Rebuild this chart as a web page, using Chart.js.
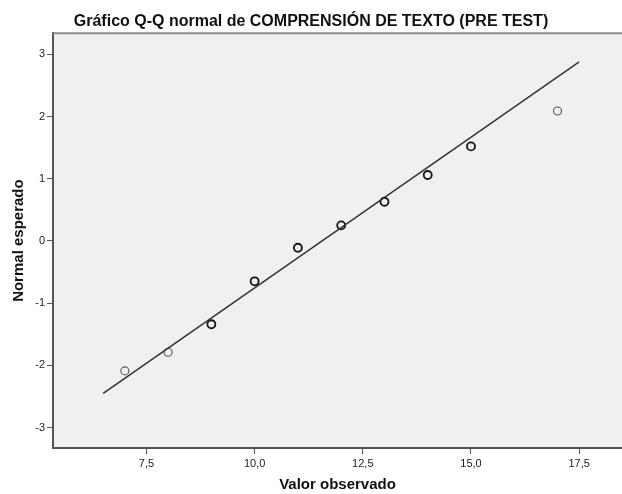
<!DOCTYPE html>
<html>
<head>
<meta charset="utf-8">
<script src="https://cdn.jsdelivr.net/npm/chart.js@4/dist/chart.umd.min.js"></script>
<style>
  body { margin: 0; background: #fff; }
  #wrap { width: 622px; height: 494px; }
</style>
</head>
<body>
<div id="wrap"><canvas id="qq" width="622" height="494"></canvas></div>
<script>
const observed = [7, 8, 9, 10, 11, 12, 13, 14, 15, 17];
const expected = [-2.09, -1.79, -1.34, -0.65, -0.11, 0.25, 0.63, 1.06, 1.52, 2.09];
// recta de referencia
const lineX = [6.5, 17.5];
const lineY = [-2.45, 2.88];
// ticks
const xTicks = [7.5, 10, 12.5, 15, 17.5];
const yTicks = [-3, -2, -1, 0, 1, 2, 3];

const fontFam = "'Liberation Sans', Arial, sans-serif";

const plotBg = {
  id: 'plotBg',
  beforeDraw(chart) {
    const { ctx, chartArea: a } = chart;
    ctx.save();
    ctx.fillStyle = '#f0f0f0';
    ctx.fillRect(a.left, a.top, a.right - a.left, a.bottom - a.top);
    ctx.restore();
  },
  afterDraw(chart) {
    const { ctx, chartArea: a } = chart;
    ctx.save();
    ctx.strokeStyle = '#8a8a8a';
    ctx.lineWidth = 2;
    ctx.beginPath();
    ctx.moveTo(a.left, a.top);
    ctx.lineTo(a.right, a.top);
    ctx.stroke();
    ctx.restore();
  }
};

new Chart('qq', {
  type: 'scatter',
  data: {
    datasets: [{
      type: 'line',
      data: lineX.map((x, i) => ({ x: x, y: lineY[i] })),
      borderColor: '#333',
      borderWidth: 1.5,
      pointRadius: 0,
      fill: false
    }, {
      data: observed.map((x, i) => ({ x: x, y: expected[i] })),
      pointRadius: 4,
      pointBackgroundColor: 'rgba(0,0,0,0)',
      pointBorderColor: ctx => (ctx.dataIndex < 2 || ctx.dataIndex === 9) ? '#555' : '#111',
      pointBorderWidth: ctx => (ctx.dataIndex < 2 || ctx.dataIndex === 9) ? 1.1 : 1.8
    }]
  },
  options: {
    responsive: false,
    animation: false,
    layout: { padding: 0, autoPadding: false },
    plugins: {
      legend: { display: false },
      tooltip: { enabled: false },
      title: {
        display: true,
        text: 'Gráfico Q-Q normal de COMPRENSIÓN DE TEXTO (PRE TEST)',
        color: '#111',
        font: { family: fontFam, size: 16, weight: 'bold' },
        padding: { top: 12, bottom: 2 }
      }
    },
    scales: {
      x: {
        type: 'linear',
        min: 5.34,
        max: 18.49,
        afterFit: s => { s.height = 46; },
        afterBuildTicks: s => { s.ticks = xTicks.map(v => ({ value: v })); },
        ticks: {
          color: '#222',
          padding: 3,
          font: { family: fontFam, size: 11 },
          callback: v => v.toFixed(1).replace('.', ',')
        },
        grid: { drawOnChartArea: false, tickLength: 6, tickColor: '#555' },
        border: { color: '#555', width: 2 },
        title: {
          display: true,
          text: 'Valor observado',
          color: '#111',
          font: { family: fontFam, size: 15, weight: 'bold' },
          padding: { top: 0, bottom: 0 }
        }
      },
      y: {
        min: -3.33,
        max: 3.34,
        afterFit: s => { s.width = 53; },
        afterBuildTicks: s => { s.ticks = yTicks.map(v => ({ value: v })); },
        ticks: {
          color: '#222',
          padding: 2,
          font: { family: fontFam, size: 11 }
        },
        grid: { drawOnChartArea: false, tickLength: 6, tickColor: '#555' },
        border: { color: '#555', width: 2 },
        title: {
          display: true,
          text: 'Normal esperado',
          color: '#111',
          font: { family: fontFam, size: 15, weight: 'bold' },
          padding: { top: 10, bottom: 0 }
        }
      }
    }
  },
  plugins: [plotBg]
});
</script>
</body>
</html>
